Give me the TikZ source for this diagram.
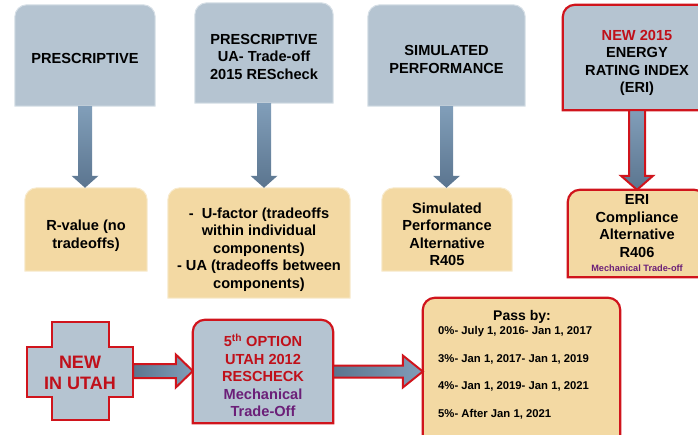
\documentclass[tikz,border=0pt]{standalone}
\usepackage{fontspec}
\setmainfont{Liberation Sans}
\usetikzlibrary{calc,backgrounds}
\definecolor{boxgray}{HTML}{B5C4D1}
\definecolor{boxtan}{HTML}{F3D9A3}
\definecolor{arrtop}{HTML}{819EB9}
\definecolor{arrbot}{HTML}{5B758F}
\definecolor{redline}{HTML}{D0141C}
\definecolor{redtext}{HTML}{C0101A}
\definecolor{purp}{HTML}{6B1F78}
\tikzset{
  boxshape/.style={inner sep=0pt},
  boxtext/.style={font=\bfseries\fontsize{14.6}{17.5}\selectfont, align=center, inner sep=0pt, text=black},
  graybg/.style={fill=boxgray, draw=boxgray!55!white, line width=1pt},
  tanbg/.style={fill=boxtan, draw=boxtan!55!white, line width=1pt},
  redgraybg/.style={fill=boxgray, draw=redline, line width=2.2pt},
  redtanbg/.style={fill=boxtan, draw=redline, line width=2.2pt},
  blockarrow/.style={top color=arrtop, bottom color=arrbot, draw=none},
  redarrow/.style={top color=arrtop, bottom color=arrbot, draw=redline, line width=2pt},
  sidearrow/.style={left color=arrbot, right color=arrtop, draw=redline, line width=2pt},
  passline/.style={font=\bfseries\fontsize{11.3}{13}\selectfont, inner sep=0pt, anchor=west},
}
\newcommand\topround[2]{\path[#2] (#1.south west) [rounded corners=12pt] -- (#1.north west) -- (#1.north east) [sharp corners] -- (#1.south east) -- cycle;}
\newcommand\varrow[6]{\path[#6] let \p1=(#1.south), \p2=(#2.north) in
  (\x1-#3,\y1) -- (\x1+#3,\y1) -- (\x1+#3,\y2+#5) -- (\x1+#4,\y2+#5) -- (\x1,\y2) -- (\x1-#4,\y2+#5) -- (\x1-#3,\y2+#5) -- cycle;}
\newcommand\harrow[6]{\path[#6] let \p1=(#1.east), \p2=(#2.west) in
  (\x1,\y1+#3) -- (\x2-#5,\y1+#3) -- (\x2-#5,\y1+#4) -- (\x2,\y1) -- (\x2-#5,\y1-#4) -- (\x2-#5,\y1-#3) -- (\x1,\y1-#3) -- cycle;}
\begin{document}
\begin{tikzpicture}[x=1pt,y=-1pt]
\useasboundingbox (0,0) rectangle (698,435);
% box shapes
\node[boxshape, minimum width=140pt, minimum height=101pt] (b1) at (85,55.5) {};
\node[boxshape, minimum width=138pt, minimum height=100pt] (b2) at (264,53) {};
\node[boxshape, minimum width=157pt, minimum height=101pt] (b3) at (446.5,55.5) {};
\node[boxshape, minimum width=148pt, minimum height=105pt] (b4) at (637,57.5) {};
\node[boxshape, minimum width=122pt, minimum height=83pt] (a1) at (86,229.5) {};
\node[boxshape, minimum width=182pt, minimum height=110pt] (a2) at (259,243) {};
\node[boxshape, minimum width=130pt, minimum height=83pt] (a3) at (447,229.5) {};
\node[boxshape, minimum width=138pt, minimum height=87pt] (a4) at (637,233.5) {};
\node[boxshape, minimum width=106pt, minimum height=98pt] (new) at (80,371) {};
\node[boxshape, minimum width=140pt, minimum height=103pt] (fifth) at (263,371.5) {};
\node[boxshape, minimum width=197pt, minimum height=147pt] (pass) at (521.5,371.5) {};
% texts
\node[boxtext] (b1t) at ([yshift=-3pt]b1.center) {PRESCRIPTIVE};
\node[boxtext] (b2t) at ([yshift=-3.5pt]b2.center) {PRESCRIPTIVE\\UA- Trade-off\\2015 REScheck};
\node[boxtext] (b3t) at ([yshift=-4pt]b3.center) {SIMULATED\\PERFORMANCE};
\node[boxtext] (b4t) at ([yshift=-5.5pt]b4.center) {\textcolor{redtext}{NEW 2015}\\ENERGY\\RATING INDEX\\(ERI)};
\node[boxtext] (a1t) at ([yshift=-6pt]a1.center) {R-value (no\\tradeoffs)};
\node[boxtext] (a2t) at ([yshift=-6.5pt]a2.center) {-~~U-factor (tradeoffs\\within individual\\components)\\- UA (tradeoffs between\\components)};
\node[boxtext] (a3t) at ([yshift=-5pt]a3.center) {Simulated\\Performance\\Alternative\\R405};
\node[boxtext] (a4t) at (a4.center) {ERI\\Compliance\\Alternative\\R406\\[-3pt]{\fontsize{9.2}{11}\selectfont\color{purp}Mechanical Trade-off}};
\node[boxtext, font=\bfseries\fontsize{18}{21}\selectfont, text=redtext] (newt) at ([yshift=-2pt]new.center) {NEW\\IN UTAH};
\node[boxtext] (fiftht) at ([yshift=-4pt]fifth.center) {\textcolor{redtext}{5\textsuperscript{th} OPTION}\\\textcolor{redtext}{UTAH 2012}\\\textcolor{redtext}{RESCHECK}\\\textcolor{purp}{Mechanical}\\\textcolor{purp}{Trade-Off}};
\node[boxtext, font=\bfseries\fontsize{14}{16}\selectfont] (pt) at (522,316.5) {Pass by:};
\node[passline] (p0) at (438,331.5) {0\%- July 1, 2016- Jan 1, 2017};
\node[passline] (p3) at (438,359.5) {3\%- Jan 1, 2017- Jan 1, 2019};
\node[passline] (p4) at (438,386.5) {4\%- Jan 1, 2019- Jan 1, 2021};
\node[passline] (p5) at (438,414.5) {5\%- After Jan 1, 2021};
\begin{scope}[on background layer]
  \topround{b1}{graybg}
  \topround{b2}{graybg}
  \topround{b3}{graybg}
  \topround{b4}{redgraybg}
  \topround{a1}{tanbg}
  \topround{a2}{tanbg}
  \topround{a3}{tanbg}
  \topround{a4}{redtanbg}
  \topround{fifth}{redgraybg}
  \topround{pass}{redtanbg}
  % cross
  \path[fill=boxgray, draw=redline, line width=2.2pt] (52,322) -- (109,322) -- (109,347) -- (133,347) -- (133,397) -- (109,397) -- (109,420) -- (52,420) -- (52,397) -- (27,397) -- (27,347) -- (52,347) -- cycle;
  % vertical arrows
  \varrow{b1}{a1}{7pt}{13.5pt}{12pt}{blockarrow}
  \varrow{b2}{a2}{7pt}{13.5pt}{12pt}{blockarrow}
  \varrow{b3}{a3}{6.5pt}{13.5pt}{12pt}{blockarrow}
  \varrow{b4}{a4}{8pt}{16pt}{14pt}{redarrow}
  % horizontal arrows
  \harrow{new}{fifth}{7pt}{16.5pt}{17pt}{sidearrow}
  \harrow{fifth}{pass}{6pt}{16pt}{20pt}{sidearrow}
\end{scope}
\end{tikzpicture}
\end{document}
